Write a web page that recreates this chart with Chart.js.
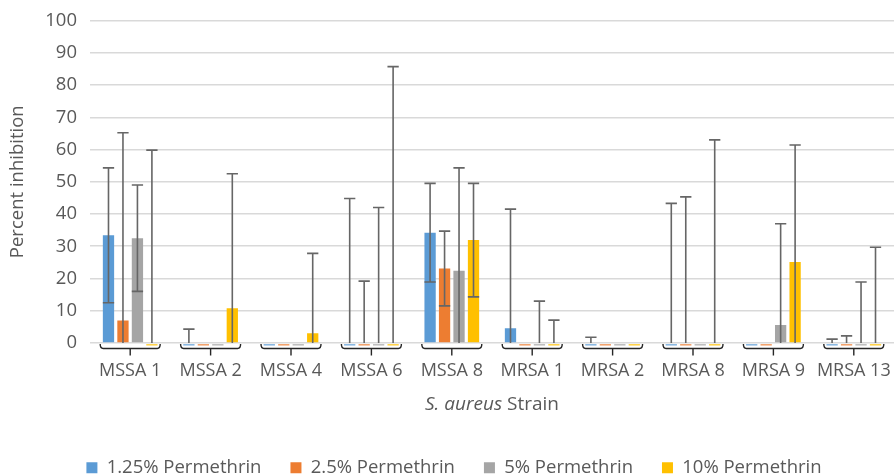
<!DOCTYPE html>
<html>
<head>
<meta charset="utf-8">
<script src="https://cdn.jsdelivr.net/npm/chart.js@4/dist/chart.umd.min.js"></script>
<style>
  html, body { margin: 0; padding: 0; background: #fff; }
  #wrap { width: 894px; height: 475px; }
</style>
</head>
<body>
<div id="wrap"><canvas id="inhibition-chart"></canvas></div>
<script>
var strains = ["MSSA 1", "MSSA 2", "MSSA 4", "MSSA 6", "MSSA 8", "MRSA 1", "MRSA 2", "MRSA 8", "MRSA 9", "MRSA 13"];
var seriesNames = ["1.25% Permethrin", "2.5% Permethrin", "5% Permethrin", "10% Permethrin"];
var seriesColors = ["#5B9BD5", "#ED7D31", "#A5A5A5", "#FFC000"];

// mean percent inhibition per strain
var perm125 = [33.4, 0, 0, 0, 34.2, 4.6, 0, 0, 0, 0];
var perm25  = [7.0, 0, 0, 0, 23.1, 0, 0, 0, 0, 0];
var perm5   = [32.5, 0, 0, 0, 22.4, 0, 0, 0, 5.6, 0];
var perm10  = [0, 10.8, 3.0, 0, 31.9, 0, 0, 0, 25.1, 0];

// error bar size (+/-)
var err125 = [20.9, 4.3, 0, 44.8, 15.3, 36.9, 1.8, 43.3, 0, 1.2];
var err25  = [58.2, 0, 0, 19.2, 11.6, 0, 0, 45.3, 0, 2.2];
var err5   = [16.5, 0, 0, 42.0, 31.9, 13.0, 0, 0, 31.4, 18.9];
var err10  = [59.8, 41.7, 24.8, 85.7, 17.6, 7.1, 0, 63.0, 36.3, 29.7];

var yTicks = [0, 10, 20, 30, 40, 50, 60, 70, 80, 90, 100];

var allValues = [perm125, perm25, perm5, perm10];
var allErrors = [err125, err25, err5, err10];

var FONT = "'Open Sans', sans-serif";
var TEXT = "#595959";

var errorBars = {
  id: "errorBars",
  afterDatasetsDraw: function (chart) {
    var ctx = chart.ctx;
    var y = chart.scales.y;
    var base = y.getPixelForValue(0);
    ctx.save();
    chart.data.datasets.forEach(function (ds, di) {
      var meta = chart.getDatasetMeta(di);
      meta.data.forEach(function (bar, i) {
        var v = ds.data[i];
        var half = bar.width / 2;
        if (v === 0) {
          ctx.strokeStyle = ds.backgroundColor;
          ctx.globalAlpha = 0.75;
          ctx.lineWidth = 1.5;
          ctx.beginPath();
          ctx.moveTo(bar.x - half, base + 1.8);
          ctx.lineTo(bar.x + half, base + 1.8);
          ctx.stroke();
          ctx.globalAlpha = 1;
        }
        var e = allErrors[di][i];
        if (!e) return;
        var top = y.getPixelForValue(v + e);
        var lowVal = v - e;
        var bottom = y.getPixelForValue(Math.max(lowVal, 0));
        ctx.strokeStyle = "#666666";
        ctx.lineWidth = 1.6;
        ctx.beginPath();
        ctx.moveTo(bar.x, bottom);
        ctx.lineTo(bar.x, top);
        ctx.moveTo(bar.x - half, top);
        ctx.lineTo(bar.x + half, top);
        if (lowVal >= 0) {
          ctx.moveTo(bar.x - half, bottom);
          ctx.lineTo(bar.x + half, bottom);
        }
        ctx.stroke();
      });
    });
    ctx.restore();
  }
};

var braces = {
  id: "braces",
  afterDraw: function (chart) {
    var ctx = chart.ctx;
    var x = chart.scales.x;
    var base = chart.scales.y.getPixelForValue(0);
    ctx.save();
    ctx.strokeStyle = "#262626";
    ctx.lineWidth = 1.4;
    strains.forEach(function (s, i) {
      var cx = x.getPixelForValue(i);
      var l = cx - 30, r = cx + 30, h = base + 5.5;
      ctx.beginPath();
      ctx.moveTo(l, base + 1);
      ctx.quadraticCurveTo(l, h, l + 3, h);
      ctx.lineTo(r - 3, h);
      ctx.quadraticCurveTo(r, h, r, base + 1);
      ctx.moveTo(cx, h);
      ctx.lineTo(cx, h + 7);
      ctx.stroke();
    });
    // x axis title, genus/species in italics
    var a = chart.chartArea;
    var part1 = "S. aureus", part2 = " Strain";
    ctx.fillStyle = TEXT;
    ctx.textBaseline = "middle";
    ctx.font = "italic 19px " + FONT;
    var w1 = ctx.measureText(part1).width;
    ctx.font = "19px " + FONT;
    var w2 = ctx.measureText(part2).width;
    var sx = (a.left + a.right) / 2 - (w1 + w2) / 2;
    ctx.font = "italic 19px " + FONT;
    ctx.fillText(part1, sx, 405);
    ctx.font = "19px " + FONT;
    ctx.fillText(part2, sx + w1, 405);
    ctx.restore();
  }
};

new Chart("inhibition-chart", {
  type: "bar",
  data: {
    labels: strains,
    datasets: allValues.map(function (vals, k) {
      return {
        label: seriesNames[k],
        data: vals,
        backgroundColor: seriesColors[k],
        barPercentage: 0.78,
        categoryPercentage: 0.72
      };
    })
  },
  options: {
    responsive: true,
    maintainAspectRatio: false,
    animation: false,
    layout: { padding: { top: 20.5, left: 14, right: 0, bottom: -12 } },
    plugins: {
      legend: {
        position: "bottom",
        labels: {
          boxWidth: 11,
          boxHeight: 11,
          padding: 29,
          color: TEXT,
          font: { family: FONT, size: 18.5 }
        }
      },
      tooltip: { enabled: false }
    },
    scales: {
      x: {
        grid: { display: false, drawTicks: false },
        border: { display: false },
        ticks: { color: TEXT, padding: 17, maxRotation: 0, autoSkip: false, font: { family: FONT, size: 18 } },
        afterFit: function (scale) {
          scale.height = 86.5;
          scale.paddingLeft = 0;
          scale.paddingRight = 0;
        }
      },
      y: {
        min: 0,
        max: 100,
        afterBuildTicks: function (scale) {
          scale.ticks = yTicks.map(function (v) { return { value: v }; });
        },
        grid: { color: "#D9D9D9", lineWidth: 1.5, drawTicks: false },
        border: { display: false },
        ticks: { color: TEXT, padding: 13, font: { family: FONT, size: 18.5 } },
        title: {
          display: true,
          text: "Percent inhibition",
          color: TEXT,
          padding: { top: -7, bottom: 0 },
          font: { family: FONT, size: 18.5 }
        },
        afterFit: function (scale) {
          scale.width = 76;
          scale.paddingTop = 0;
          scale.paddingBottom = 0;
        }
      }
    }
  },
  plugins: [errorBars, braces]
});
</script>
</body>
</html>
